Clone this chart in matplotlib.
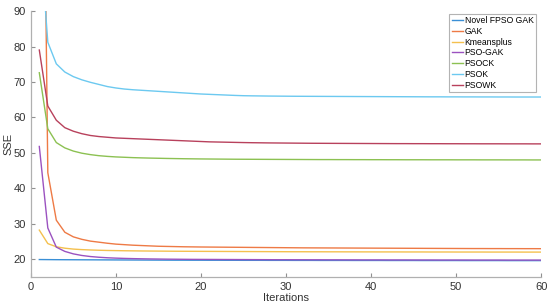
import matplotlib
matplotlib.use("Agg")
import matplotlib.pyplot as plt

plt.rcParams['font.family'] = ['Liberation Sans', 'DejaVu Sans']

iters = list(range(1, 61))

novel = [19.9, 19.88, 19.86, 19.85, 19.84, 19.83, 19.82, 19.81, 19.8, 19.79,
         19.78, 19.77, 19.76, 19.75, 19.74, 19.73, 19.72, 19.72, 19.71, 19.71,
         19.7, 19.7, 19.69, 19.69, 19.68, 19.68, 19.68, 19.67, 19.67, 19.67,
         19.66, 19.66, 19.66, 19.65, 19.65, 19.65, 19.65, 19.64, 19.64, 19.64,
         19.64, 19.63, 19.63, 19.63, 19.63, 19.62, 19.62, 19.62, 19.62, 19.62,
         19.61, 19.61, 19.61, 19.61, 19.61, 19.6, 19.6, 19.6, 19.6, 19.6]
gak = [250.0, 44.4, 31.0, 27.6, 26.3, 25.6, 25.1, 24.8, 24.5, 24.25,
       24.1, 23.95, 23.85, 23.75, 23.65, 23.6, 23.55, 23.5, 23.47, 23.44,
       23.42, 23.4, 23.38, 23.36, 23.34, 23.32, 23.3, 23.28, 23.26, 23.24,
       23.22, 23.2, 23.19, 23.18, 23.17, 23.16, 23.15, 23.14, 23.13, 23.12,
       23.11, 23.1, 23.09, 23.08, 23.07, 23.06, 23.05, 23.04, 23.03, 23.02,
       23.01, 23.0, 23.0, 22.99, 22.99, 22.98, 22.98, 22.97, 22.97, 22.96]
kmeans = [28.2, 24.4, 23.5, 23.1, 22.85, 22.7, 22.6, 22.52, 22.46, 22.42,
          22.38, 22.35, 22.32, 22.3, 22.28, 22.26, 22.24, 22.23, 22.22, 22.21,
          22.2, 22.19, 22.18, 22.17, 22.16, 22.15, 22.14, 22.13, 22.12, 22.11,
          22.1, 22.1, 22.09, 22.09, 22.08, 22.08, 22.07, 22.07, 22.06, 22.06,
          22.05, 22.05, 22.05, 22.04, 22.04, 22.04, 22.03, 22.03, 22.03, 22.02,
          22.02, 22.02, 22.02, 22.01, 22.01, 22.01, 22.01, 22.0, 22.0, 22.0]
psogak = [51.8, 28.8, 23.4, 22.2, 21.5, 21.05, 20.75, 20.55, 20.4, 20.3,
          20.22, 20.16, 20.11, 20.07, 20.04, 20.01, 19.99, 19.97, 19.95, 19.94,
          19.93, 19.92, 19.91, 19.9, 19.89, 19.88, 19.87, 19.86, 19.85, 19.85,
          19.84, 19.84, 19.83, 19.83, 19.82, 19.82, 19.81, 19.81, 19.8, 19.8,
          19.8, 19.79, 19.79, 19.79, 19.78, 19.78, 19.78, 19.77, 19.77, 19.77,
          19.77, 19.76, 19.76, 19.76, 19.76, 19.75, 19.75, 19.75, 19.75, 19.75]
psock = [72.6, 56.8, 52.9, 51.4, 50.5, 49.9, 49.5, 49.2, 49.0, 48.85,
         48.75, 48.65, 48.58, 48.52, 48.47, 48.42, 48.38, 48.34, 48.31, 48.28,
         48.26, 48.24, 48.22, 48.2, 48.19, 48.18, 48.17, 48.16, 48.15, 48.14,
         48.13, 48.12, 48.11, 48.1, 48.1, 48.09, 48.09, 48.08, 48.08, 48.07,
         48.07, 48.06, 48.06, 48.05, 48.05, 48.05, 48.04, 48.04, 48.04, 48.03,
         48.03, 48.03, 48.02, 48.02, 48.02, 48.01, 48.01, 48.01, 48.0, 48.0]
psok = [114.0, 81.2, 75.1, 72.8, 71.5, 70.6, 69.9, 69.3, 68.7, 68.3,
        68.0, 67.8, 67.65, 67.5, 67.35, 67.2, 67.05, 66.9, 66.75, 66.6,
        66.5, 66.4, 66.3, 66.2, 66.12, 66.08, 66.05, 66.02, 66.0, 65.98,
        65.96, 65.95, 65.94, 65.93, 65.92, 65.91, 65.9, 65.89, 65.88, 65.87,
        65.86, 65.85, 65.84, 65.83, 65.82, 65.81, 65.8, 65.8, 65.79, 65.79,
        65.78, 65.78, 65.77, 65.77, 65.76, 65.76, 65.75, 65.75, 65.75, 65.75]
psowk = [79.0, 63.2, 59.2, 57.1, 56.1, 55.4, 54.9, 54.6, 54.4, 54.2,
         54.1, 54.0, 53.9, 53.8, 53.7, 53.6, 53.5, 53.4, 53.3, 53.2,
         53.1, 53.05, 53.0, 52.95, 52.9, 52.86, 52.83, 52.8, 52.78, 52.76,
         52.74, 52.72, 52.7, 52.69, 52.68, 52.67, 52.66, 52.65, 52.64, 52.63,
         52.62, 52.61, 52.6, 52.6, 52.59, 52.59, 52.58, 52.58, 52.57, 52.57,
         52.56, 52.56, 52.55, 52.55, 52.55, 52.54, 52.54, 52.54, 52.53, 52.53]

series_names = ["Novel FPSO GAK", "GAK", "Kmeansplus", "PSO-GAK", "PSOCK", "PSOK", "PSOWK"]
series_vals = [novel, gak, kmeans, psogak, psock, psok, psowk]
colors = ["#3a8fd6", "#ee7a45", "#f4c04e", "#9b52c0", "#8cc152", "#6cc9f0", "#b8415c"]

x_ticks = [0, 10, 20, 30, 40, 50, 60]
y_ticks = [20, 30, 40, 50, 60, 70, 80, 90]

fig = plt.figure(figsize=(5.5, 3.07), dpi=100)
ax = fig.add_axes([0.056, 0.098, 0.928, 0.866])

for name, vals, c in zip(series_names, series_vals, colors):
    ax.plot(iters, vals, color=c, lw=1.0, label=name)

ax.set_xlim(0, 60)
ax.set_ylim(15, 90)
ax.set_xticks(x_ticks)
ax.set_yticks(y_ticks)
for s in ["top", "right"]:
    ax.spines[s].set_visible(False)
for s in ["left", "bottom"]:
    ax.spines[s].set_color("#b0b0b0")
    ax.spines[s].set_linewidth(0.9)
ax.tick_params(direction="in", length=3, color="#909090", labelsize=8, labelcolor="#333333")
ax.set_xlabel("Iterations", fontsize=8, color="#333333", labelpad=1)
ax.set_ylabel("SSE", fontsize=8, color="#333333", labelpad=0)

leg = ax.legend(loc="upper right", bbox_to_anchor=(0.995, 1.0), fontsize=6.2, frameon=True,
                fancybox=False, handlelength=1.3, handletextpad=0.2, borderpad=0.3,
                labelspacing=0.2, borderaxespad=0.3)
leg.get_frame().set_edgecolor("#a0a0a0")
leg.get_frame().set_linewidth(0.8)

fig.savefig("out.png", dpi=100)
